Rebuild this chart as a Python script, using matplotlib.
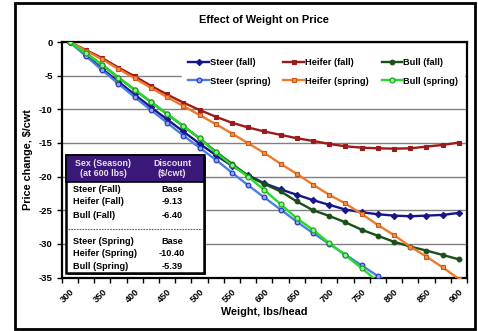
import numpy as np
import matplotlib.pyplot as plt
from matplotlib.patches import Rectangle
from matplotlib.lines import Line2D

plt.rcParams['font.family'] = ['Liberation Sans', 'DejaVu Sans']
plt.rcParams['font.weight'] = 'bold'

# weight categories (lbs/head)
weights = [300, 325, 350, 375, 400, 425, 450, 475, 500, 525, 550, 575, 600,
           625, 650, 675, 700, 725, 750, 775, 800, 825, 850, 875, 900]
tick_labels = ['300', '350', '400', '450', '500', '550', '600', '650', '700',
               '750', '800', '850', '900']

# price change, $/cwt
steer_fall = [0, -2.0, -4.0, -5.9, -7.8, -9.7, -11.5, -13.3, -15.1, -16.8, -18.4,
              -19.8, -21.0, -21.9, -22.7, -23.5, -24.2, -24.9, -25.3, -25.6, -25.8,
              -25.9, -25.8, -25.7, -25.4]
heifer_fall = [0, -1.2, -2.4, -3.8, -5.1, -6.5, -7.8, -9.0, -10.1, -11.1, -12.0,
               -12.7, -13.3, -13.8, -14.3, -14.7, -15.15, -15.5, -15.7, -15.8,
               -15.85, -15.8, -15.55, -15.3, -14.95]
bull_fall = [0, -1.7, -3.4, -5.3, -7.1, -8.9, -10.7, -12.5, -14.3, -16.3, -18.1,
             -19.9, -21.1, -22.2, -23.7, -25.0, -25.85, -26.8, -27.9, -28.8, -29.7,
             -30.4, -31.0, -31.65, -32.3]
steer_spring = [0, -2.1, -4.2, -6.2, -8.2, -10.1, -12.0, -13.9, -15.7, -17.5, -19.4,
                -21.3, -23.1, -24.9, -26.7, -28.4, -30.0, -31.6, -33.2, -34.8, -36.2]
heifer_spring = [0, -1.3, -2.6, -4.0, -5.4, -6.8, -8.2, -9.5, -10.85, -12.2, -13.6,
                 -15.05, -16.5, -18.1, -19.6, -21.2, -22.7, -24.0, -25.55, -27.2,
                 -28.7, -30.4, -31.9, -33.5, -35.2]
bull_spring = [0, -1.7, -3.4, -5.3, -7.1, -8.9, -10.7, -12.5, -14.3, -16.4, -18.3,
               -20.0, -22.0, -24.1, -26.2, -27.9, -29.9, -31.7, -33.6, -35.6]

table_sex = ['Steer (Fall)', 'Heifer (Fall)', 'Bull (Fall)',
             'Steer (Spring)', 'Heifer (Spring)', 'Bull (Spring)']
table_discount = ['Base', '-9.13', '-6.40', 'Base', '-10.40', '-5.39']

W, H = 478, 331


def fx(px):
    return px / W


def fy(py):
    return 1 - py / H


fig = plt.figure(figsize=(W / 100, H / 100), dpi=100)
ax = fig.add_axes([fx(61.7), fy(277.5), (467 - 61.7) / W, (277.5 - 42) / H])

series = [
    ('Steer (fall)', steer_fall, dict(color='#16168a', marker='D', ms=3.2,
                                      mfc='#16168a', mec='#16168a'), 3),
    ('Steer (spring)', steer_spring, dict(color='#4a7ee6', marker='o', ms=3.4,
                                          mfc='#8fa8f0', mec='#1e2fb8'), 6),
    ('Heifer (fall)', heifer_fall, dict(color='#9c1a1a', marker='s', ms=3.0,
                                        mfc='#9c1a1a', mec='#9c1a1a'), 4),
    ('Heifer (spring)', heifer_spring, dict(color='#f07a28', marker='s', ms=3.0,
                                            mfc='#f09050', mec='#c85a18'), 7),
    ('Bull (fall)', bull_fall, dict(color='#1c4e1a', marker='o', ms=3.4,
                                    mfc='#1c4e1a', mec='#1c4e1a'), 5),
    ('Bull (spring)', bull_spring, dict(color='#20de20', marker='o', ms=3.6,
                                        mfc='#90ee90', mec='#169a16'), 8),
]

for name, vals, style, z in series:
    ax.plot(weights[:len(vals)], vals, lw=1.7, label=name, zorder=z,
            mew=0.8, **style)

ax.set_xlim(287.5, 912.5)
ax.set_ylim(-35, 0)
ax.set_yticks(np.arange(-35, 1, 5))
ax.set_yticklabels(['-35', '-30', '-25', '-20', '-15', '-10', '-5', '0'])
ax.set_xticks(np.arange(287.5, 913, 25), minor=True)
ax.set_xticks(weights[::2])
ax.set_xticklabels(tick_labels, rotation=45, ha='right', rotation_mode='anchor')
ax.tick_params(axis='x', which='major', length=0, labelsize=6.6, pad=7)
ax.tick_params(axis='x', which='minor', length=3.5, width=1, direction='out')
ax.tick_params(axis='y', length=3.5, width=1, labelsize=6.8, pad=3)
ax.yaxis.grid(True, color='#808080', lw=1)
ax.set_axisbelow(True)
for sp in ax.spines.values():
    sp.set_linewidth(1.6)
    sp.set_color('black')

ax.set_title('Effect of Weight on Price', fontsize=7.9, fontweight='bold', pad=14)
ax.set_xlabel('Weight, lbs/head', fontsize=7.8, fontweight='bold', labelpad=2)
ax.set_ylabel('Price change, $/cwt', fontsize=7.8, fontweight='bold', labelpad=4)

leg = ax.legend(ncol=3, loc='center', bbox_to_anchor=(0.645, 0.873),
                fontsize=6.7, frameon=True, fancybox=False, edgecolor='white',
                framealpha=1, handlelength=2.2, handletextpad=0.1,
                columnspacing=1.4, labelspacing=1.0, borderpad=0.7)
leg.set_zorder(9)

# discount table in the lower left corner
tab = Rectangle((fx(66), fy(273)), (204 - 66) / W, (273 - 155) / H,
                transform=fig.transFigure, facecolor='white', edgecolor='black',
                lw=1.8, zorder=20)
shadow = Rectangle((fx(68), fy(275)), (204 - 66) / W, (273 - 155) / H,
                   transform=fig.transFigure, facecolor='#404040', edgecolor='none',
                   zorder=19)
head = Rectangle((fx(66), fy(182)), (204 - 66) / W, (182 - 155) / H,
                 transform=fig.transFigure, facecolor='#3a1878', edgecolor='black',
                 lw=1.2, zorder=21)
fig.patches.extend([shadow, tab, head])

fig.text(fx(103), fy(168.5), 'Sex (Season)\n(at 600 lbs)', ha='center', va='center',
         fontsize=6.4, color='#e6e0f4', linespacing=1.05, zorder=22)
fig.text(fx(172), fy(168.5), 'Discount\n($/cwt)', ha='center', va='center',
         fontsize=6.4, color='#e6e0f4', linespacing=1.05, zorder=22)

row_y = [189, 202, 215.5, 241, 254, 266.5]
for name, disc, y in zip(table_sex, table_discount, row_y):
    fig.text(fx(73), fy(y), name, ha='left', va='center', fontsize=6.6, zorder=22)
    fig.text(fx(172), fy(y), disc, ha='center', va='center', fontsize=6.6, zorder=22)

fig.lines.append(Line2D([fx(68), fx(202)], [fy(229), fy(229)], transform=fig.transFigure,
                        color='#606060', lw=0.8, ls=(0, (1.5, 1)), zorder=22))

# outer chart border
fig.patches.append(Rectangle((fx(15), fy(329)), (475 - 15) / W, (329 - 3) / H,
                             transform=fig.transFigure, fill=False,
                             edgecolor='black', lw=2))

fig.savefig('out.png', dpi=100)
